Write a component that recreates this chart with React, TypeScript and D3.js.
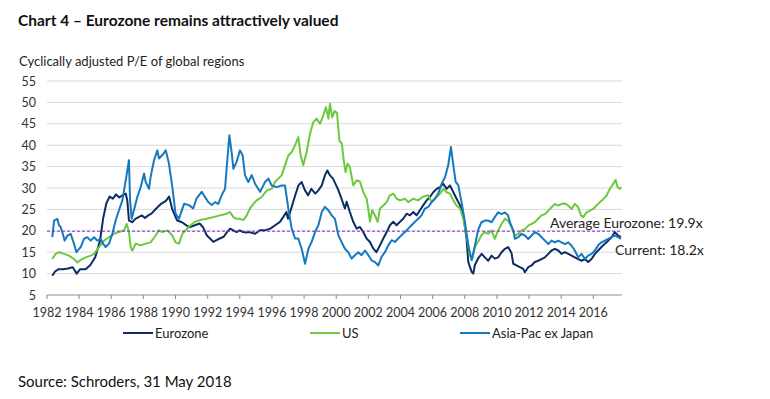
import React from 'react';
import * as d3 from 'd3';

// values, [decimal year, CAPE]
const eurozone: [number, number][] = [
  [1982.33, 9.5], [1982.5, 10.5], [1982.7, 11.0], [1983.0, 11.0], [1983.3, 11.2], [1983.6, 11.5],
  [1983.85, 10.0], [1984.05, 11.0], [1984.4, 11.0], [1984.7, 12.0], [1985.0, 13.8], [1985.3, 17.7],
  [1985.5, 23.0], [1985.7, 26.5], [1985.9, 28.0], [1986.1, 27.5], [1986.3, 28.5], [1986.5, 27.8],
  [1986.7, 28.3], [1986.9, 28.7], [1987.0, 27.0], [1987.1, 22.4], [1987.3, 22.0], [1987.5, 22.8],
  [1987.7, 23.2], [1987.9, 23.6], [1988.1, 23.0], [1988.3, 23.6], [1988.5, 24.0], [1988.8, 25.2],
  [1989.1, 26.3], [1989.4, 27.0], [1989.6, 28.0], [1989.8, 25.0], [1990.1, 22.4], [1990.4, 22.0],
  [1990.7, 21.2], [1990.9, 20.9], [1991.2, 21.3], [1991.5, 21.7], [1991.7, 20.9], [1991.95, 18.9],
  [1992.15, 18.2], [1992.35, 17.4], [1992.55, 17.8], [1992.75, 18.2], [1993.0, 18.6], [1993.2, 19.7],
  [1993.4, 20.5], [1993.6, 20.1], [1993.8, 19.7], [1994.0, 20.1], [1994.2, 19.7], [1994.4, 19.6],
  [1994.6, 19.7], [1994.95, 19.3], [1995.25, 20.1], [1995.55, 20.1], [1995.9, 20.5], [1996.2, 21.3],
  [1996.5, 22.1], [1996.7, 23.2], [1996.9, 24.4], [1997.0, 22.8], [1997.2, 25.2], [1997.45, 28.3],
  [1997.65, 30.6], [1997.85, 31.4], [1998.05, 29.5], [1998.25, 28.3], [1998.45, 29.8], [1998.7, 28.7],
  [1998.9, 29.5], [1999.1, 30.6], [1999.3, 33.0], [1999.45, 34.1], [1999.6, 33.0], [1999.8, 32.2],
  [2000.1, 29.8], [2000.33, 27.5], [2000.54, 25.2], [2000.65, 26.8], [2000.85, 24.4], [2001.06, 22.1],
  [2001.27, 20.5], [2001.48, 20.9], [2001.68, 19.7], [2001.89, 18.2], [2002.1, 17.4], [2002.3, 15.9],
  [2002.5, 15.0], [2002.72, 16.6], [2002.93, 18.2], [2003.14, 19.7], [2003.34, 21.3], [2003.55, 22.1],
  [2003.76, 21.3], [2003.97, 22.1], [2004.17, 22.8], [2004.38, 24.0], [2004.59, 23.6], [2004.8, 24.4],
  [2005.0, 23.6], [2005.21, 24.8], [2005.42, 26.0], [2005.63, 27.1], [2005.83, 27.9], [2006.04, 29.0],
  [2006.25, 29.8], [2006.46, 30.2], [2006.66, 31.0], [2006.87, 29.8], [2007.08, 30.6], [2007.29, 29.0],
  [2007.49, 27.5], [2007.7, 26.0], [2007.91, 23.6], [2008.11, 18.2], [2008.22, 12.7], [2008.43, 10.4],
  [2008.53, 10.0], [2008.63, 12.0], [2008.84, 13.6], [2009.05, 14.6], [2009.25, 13.8], [2009.46, 13.0],
  [2009.67, 14.2], [2009.87, 13.5], [2010.08, 13.8], [2010.29, 15.0], [2010.5, 15.8], [2010.7, 16.2],
  [2010.91, 14.8], [2011.02, 12.3], [2011.22, 11.9], [2011.43, 11.5], [2011.64, 11.1], [2011.74, 10.3],
  [2011.95, 11.5], [2012.16, 11.9], [2012.36, 12.7], [2012.57, 13.0], [2012.78, 13.4], [2012.99, 13.8],
  [2013.2, 14.6], [2013.4, 15.4], [2013.61, 15.8], [2013.82, 15.4], [2014.02, 14.6], [2014.23, 15.0],
  [2014.44, 14.6], [2014.65, 14.2], [2014.85, 13.8], [2015.06, 13.4], [2015.27, 13.0], [2015.48, 13.4],
  [2015.68, 12.7], [2015.89, 13.4], [2016.1, 14.6], [2016.3, 15.4], [2016.51, 16.2], [2016.72, 17.0],
  [2016.93, 17.7], [2017.14, 18.5], [2017.34, 19.7], [2017.55, 18.9], [2017.72, 18.5],
];

const us: [number, number][] = [
  [1982.33, 13.4], [1982.54, 14.6], [1982.75, 15.0], [1983.06, 14.6], [1983.37, 14.2], [1983.68, 13.4],
  [1983.89, 12.6], [1984.1, 13.2], [1984.41, 13.8], [1984.72, 14.2], [1984.93, 14.6], [1985.24, 16.2],
  [1985.55, 17.7], [1985.86, 18.5], [1986.17, 19.3], [1986.48, 19.7], [1986.79, 20.1], [1986.96, 21.6],
  [1987.1, 19.7], [1987.21, 16.2], [1987.31, 15.4], [1987.52, 17.0], [1987.83, 16.6], [1988.14, 17.0],
  [1988.45, 17.3], [1988.76, 18.9], [1988.97, 20.1], [1989.18, 19.7], [1989.49, 20.1], [1989.8, 18.9],
  [1990.0, 17.3], [1990.22, 17.0], [1990.42, 19.3], [1990.63, 20.1], [1990.84, 21.0], [1991.21, 22.1],
  [1991.52, 22.5], [1991.94, 22.8], [1992.35, 23.2], [1992.77, 23.6], [1993.18, 24.0], [1993.39, 24.4],
  [1993.6, 23.2], [1993.8, 22.8], [1994.01, 22.8], [1994.22, 22.5], [1994.43, 23.6], [1994.63, 25.2],
  [1994.84, 26.3], [1995.05, 27.1], [1995.36, 27.9], [1995.67, 29.4], [1995.98, 29.8], [1996.19, 31.4],
  [1996.4, 32.2], [1996.61, 33.0], [1996.81, 35.3], [1997.02, 37.6], [1997.23, 38.4], [1997.44, 40.0],
  [1997.64, 41.9], [1997.79, 37.6], [1997.95, 35.3], [1998.16, 38.4], [1998.37, 42.7], [1998.58, 45.4],
  [1998.78, 46.2], [1998.99, 45.0], [1999.2, 47.0], [1999.36, 48.9], [1999.51, 46.2], [1999.61, 49.7],
  [1999.75, 46.5], [1999.9, 48.0], [2000.05, 47.5], [2000.2, 41.0], [2000.35, 40.4], [2000.45, 37.0],
  [2000.58, 33.7], [2000.71, 35.7], [2000.85, 34.9], [2001.06, 30.6], [2001.27, 31.8], [2001.48, 31.5],
  [2001.68, 29.1], [2001.89, 27.5], [2001.99, 25.2], [2002.1, 22.1], [2002.24, 24.8], [2002.41, 23.6],
  [2002.58, 22.1], [2002.72, 25.2], [2002.93, 25.9], [2003.14, 26.7], [2003.34, 28.3], [2003.55, 28.7],
  [2003.76, 27.5], [2003.97, 27.1], [2004.28, 27.5], [2004.48, 26.7], [2004.8, 27.5], [2005.1, 27.1],
  [2005.42, 28.0], [2005.73, 28.3], [2005.94, 26.7], [2006.14, 27.5], [2006.46, 28.7], [2006.66, 29.8],
  [2006.87, 29.0], [2007.08, 28.7], [2007.29, 27.1], [2007.49, 25.9], [2007.7, 25.2], [2007.91, 22.8],
  [2008.11, 18.9], [2008.32, 14.2], [2008.47, 13.5], [2008.63, 16.2], [2008.84, 17.5], [2009.04, 19.0],
  [2009.25, 19.7], [2009.46, 19.3], [2009.67, 20.1], [2009.87, 18.1], [2010.08, 20.1], [2010.29, 21.6],
  [2010.5, 22.8], [2010.7, 22.4], [2010.91, 20.8], [2011.12, 18.9], [2011.33, 19.3], [2011.53, 20.1],
  [2011.74, 20.4], [2011.95, 21.2], [2012.16, 21.6], [2012.36, 22.0], [2012.57, 22.8], [2012.78, 23.6],
  [2012.99, 23.9], [2013.2, 24.7], [2013.4, 25.5], [2013.61, 26.3], [2013.82, 25.9], [2014.02, 26.3],
  [2014.23, 26.4], [2014.44, 25.9], [2014.65, 25.1], [2014.85, 26.3], [2015.06, 25.5], [2015.23, 23.6],
  [2015.37, 23.2], [2015.58, 24.3], [2015.79, 24.7], [2015.99, 25.1], [2016.2, 25.9], [2016.41, 26.7],
  [2016.62, 27.4], [2016.82, 28.2], [2017.03, 29.8], [2017.24, 31.0], [2017.39, 31.9], [2017.51, 30.2],
  [2017.65, 29.8], [2017.76, 30.2],
];

const asiaPac: [number, number][] = [
  [1982.33, 18.5], [1982.44, 22.4], [1982.64, 22.8], [1982.75, 21.3], [1982.85, 20.9], [1982.95, 19.7],
  [1983.1, 17.7], [1983.27, 18.9], [1983.47, 19.3], [1983.68, 17.0], [1983.83, 15.0], [1984.0, 15.8],
  [1984.1, 16.2], [1984.3, 18.1], [1984.5, 18.5], [1984.72, 17.7], [1984.93, 18.5], [1985.13, 17.7],
  [1985.34, 18.1], [1985.49, 17.0], [1985.65, 16.2], [1985.86, 17.0], [1986.07, 19.3], [1986.27, 22.4],
  [1986.48, 24.8], [1986.69, 27.1], [1986.9, 31.8], [1987.1, 36.5], [1987.17, 27.1], [1987.27, 22.8],
  [1987.41, 24.8], [1987.62, 27.9], [1987.83, 30.2], [1988.04, 33.4], [1988.14, 31.4], [1988.35, 29.8],
  [1988.45, 32.6], [1988.66, 36.5], [1988.87, 38.8], [1988.97, 36.9], [1989.18, 37.7], [1989.39, 38.8],
  [1989.59, 35.7], [1989.8, 30.2], [1990.0, 24.0], [1990.22, 22.8], [1990.32, 24.0], [1990.53, 26.3],
  [1990.84, 26.0], [1991.1, 25.2], [1991.3, 27.5], [1991.63, 29.1], [1991.83, 27.9], [1992.04, 26.7],
  [1992.25, 26.0], [1992.46, 26.7], [1992.66, 26.3], [1992.87, 28.3], [1993.08, 29.8], [1993.18, 34.5],
  [1993.35, 42.3], [1993.49, 38.4], [1993.6, 34.5], [1993.8, 36.1], [1994.01, 38.8], [1994.18, 37.6],
  [1994.32, 33.0], [1994.53, 31.4], [1994.74, 33.0], [1994.95, 31.0], [1995.26, 29.1], [1995.57, 31.4],
  [1995.78, 32.2], [1995.98, 30.6], [1996.29, 30.2], [1996.61, 30.6], [1996.81, 30.6], [1997.02, 25.2],
  [1997.23, 20.5], [1997.44, 18.2], [1997.64, 18.2], [1997.85, 15.8], [1998.06, 12.3], [1998.27, 15.8],
  [1998.47, 17.4], [1998.68, 19.7], [1998.89, 21.3], [1999.1, 24.4], [1999.3, 25.6], [1999.51, 24.8],
  [1999.72, 23.6], [1999.92, 22.8], [2000.13, 19.0], [2000.33, 17.4], [2000.54, 15.8], [2000.75, 15.0],
  [2000.96, 13.5], [2001.16, 14.3], [2001.37, 15.0], [2001.58, 14.3], [2001.79, 15.4], [2002.0, 14.3],
  [2002.2, 13.1], [2002.41, 12.7], [2002.62, 11.9], [2002.82, 13.9], [2003.03, 15.0], [2003.24, 16.6],
  [2003.45, 17.8], [2003.65, 17.4], [2003.86, 18.2], [2004.07, 19.0], [2004.28, 19.7], [2004.48, 20.5],
  [2004.69, 21.3], [2004.9, 22.1], [2005.1, 22.8], [2005.31, 23.6], [2005.52, 25.2], [2005.73, 25.6],
  [2005.94, 26.7], [2006.14, 27.5], [2006.35, 28.7], [2006.56, 31.0], [2006.77, 32.5], [2006.97, 35.3],
  [2007.14, 39.6], [2007.29, 35.3], [2007.43, 31.5], [2007.6, 30.6], [2007.8, 26.7], [2008.01, 22.1],
  [2008.22, 16.6], [2008.43, 13.1], [2008.63, 16.5], [2008.84, 20.3], [2009.04, 22.0], [2009.25, 22.4],
  [2009.46, 22.4], [2009.67, 22.0], [2009.87, 23.2], [2010.08, 24.3], [2010.29, 23.9], [2010.5, 24.3],
  [2010.7, 23.6], [2010.81, 22.0], [2011.02, 20.1], [2011.12, 18.1], [2011.33, 18.5], [2011.53, 19.3],
  [2011.74, 18.9], [2011.95, 18.1], [2012.16, 18.9], [2012.36, 19.7], [2012.57, 19.3], [2012.78, 18.5],
  [2012.99, 17.7], [2013.2, 16.9], [2013.4, 17.7], [2013.61, 17.3], [2013.82, 17.7], [2014.02, 17.3],
  [2014.23, 16.9], [2014.44, 17.3], [2014.65, 16.5], [2014.85, 15.4], [2015.06, 13.8], [2015.27, 14.6],
  [2015.48, 13.4], [2015.68, 14.2], [2015.89, 14.6], [2016.1, 15.4], [2016.3, 16.6], [2016.51, 17.3],
  [2016.72, 17.7], [2016.93, 18.1], [2017.14, 18.5], [2017.34, 18.9], [2017.55, 18.5], [2017.72, 18.1],
];

const averageEurozone = 19.9;
const currentEurozone = 18.2;
const yTicks = [5, 10, 15, 20, 25, 30, 35, 40, 45, 50, 55];
const xTicks = [1982, 1984, 1986, 1988, 1990, 1992, 1994, 1996, 1998, 2000, 2002, 2004, 2006, 2008, 2010, 2012, 2014, 2016];

const series = [
  { name: 'Eurozone', data: eurozone, color: '#0c2c63' },
  { name: 'US', data: us, color: '#6cc83e' },
  { name: 'Asia-Pac ex Japan', data: asiaPac, color: '#1579c2' },
];

const font = 'Lato, "Open Sans", sans-serif';

export default function App() {
  const x = d3.scaleLinear().domain([1982, 2016]).range([47, 593.3]);
  const y = d3.scaleLinear().domain([5, 55]).range([295, 81]);
  const xEnd = x(2017.78);
  const line = d3.line<[number, number]>()
    .x((d) => x(d[0]))
    .y((d) => y(d[1]));

  const legendX = [123, 310, 460];

  return (
    <svg width={770} height={399} style={{ position: 'absolute', left: 0, top: 0, background: '#fff' }}
      fontFamily={font}>
      <rect width={770} height={399} fill="#fff" />
      <text x={18} y={26} fontSize={15.5} fontWeight={700} fill="#111">
        Chart 4 – Eurozone remains attractively valued
      </text>
      <text x={19} y={66} fontSize={13} fill="#222">Cyclically adjusted P/E of global regions</text>

      {yTicks.map((t) => (
        <g key={t}>
          {t > 5 && <line x1={47} x2={xEnd} y1={y(t)} y2={y(t)} stroke="#d9d9d9" strokeWidth={1} />}
          <text x={36} y={y(t) + 4.5} fontSize={12.5} fill="#333" textAnchor="end">{t}</text>
        </g>
      ))}

      <line x1={47} x2={xEnd} y1={y(5)} y2={y(5)} stroke="#8c8c8c" strokeWidth={1} />
      {xTicks.map((t) => (
        <g key={t}>
          <line x1={x(t)} x2={x(t)} y1={y(5)} y2={y(5) + 4} stroke="#8c8c8c" />
          <text x={x(t)} y={316.5} fontSize={12.5} fill="#333" textAnchor="middle">{t}</text>
        </g>
      ))}

      {series.map((s) => (
        <path key={s.name} d={line(s.data) ?? ''} fill="none" stroke={s.color} strokeWidth={2}
          strokeLinejoin="round" />
      ))}

      <line x1={47} x2={xEnd} y1={y(averageEurozone)} y2={y(averageEurozone)} stroke="#8a2be2"
        strokeWidth={1} strokeDasharray="3,2" />

      <text x={550} y={228} fontSize={14} fill="#222">Average Eurozone: {averageEurozone}x</text>
      <text x={615} y={255} fontSize={14} fill="#222">Current: {currentEurozone}x</text>

      {series.map((s, i) => (
        <g key={s.name}>
          <line x1={legendX[i]} x2={legendX[i] + 30} y1={333} y2={333} stroke={s.color} strokeWidth={2} />
          <text x={legendX[i] + 32} y={337.5} fontSize={13} fill="#222">{s.name}</text>
        </g>
      ))}

      <text x={18} y={387} fontSize={15} fill="#111">Source: Schroders, 31 May 2018</text>
    </svg>
  );
}
